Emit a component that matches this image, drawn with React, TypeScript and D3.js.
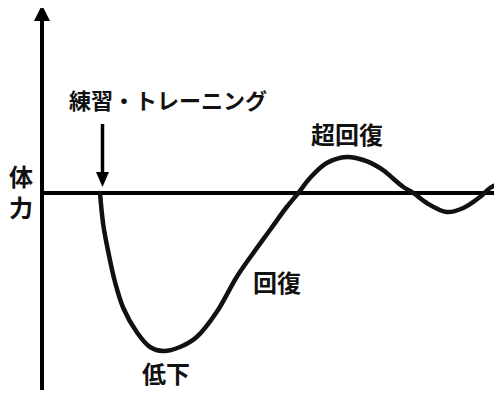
import React from "react";
import * as d3 from "d3";

// curve: time (arbitrary units) vs fitness (relative to baseline 0)
const curveT = [5.8, 6.13, 6.63, 7.3, 8.13, 9.47, 10.8, 12.13, 13.8, 15.47, 17.47, 19.47, 21.13, 22.8, 24.47, 25.63, 26.8, 28.47, 30.47, 32.13, 33.8, 34.47, 36.13, 37.13, 38.47, 40.47, 42.13, 43.8, 44.8, 46];
const curveV = [0, -3.2, -5.9, -8.9, -11.5, -13.9, -15.4, -15.8, -15.4, -14.4, -11.9, -8.4, -6.0, -3.7, -1.4, 0, 1.5, 3.0, 3.6, 3.3, 2.5, 2.0, 0.6, 0, -1.0, -1.9, -1.5, -0.4, 0.5, 1.1];

const trainingLabel = "練習・トレーニング";
const trainingT = 6.05;
const axisLabel = ["体", "力"];

// phase labels: text, time position, fitness position
const phaseText = ["超回復", "回復", "低下"];
const phaseT = [30.5, 23.5, 12.4];
const phaseV = [4.9, -9.9, -19.0];

const W = 502;
const H = 398;
const FONT = "'Noto Sans CJK JP', 'Noto Sans', sans-serif";

export default function App() {
  const x = d3.scaleLinear().domain([0, 46]).range([42, 502]);
  const y = d3.scaleLinear().domain([-20.5, 18.7]).range([398, 6]);

  const pts: [number, number][] = curveT.map((t, i) => [t, curveV[i]]);
  const line = d3
    .line<[number, number]>()
    .x((d) => x(d[0]))
    .y((d) => y(d[1]))
    .curve(d3.curveCatmullRom.alpha(0.5));

  const x0 = x(0);
  const y0 = y(0);
  const xa = x(trainingT);

  return (
    <div style={{ margin: -8 }}>
      <svg width={W} height={H} style={{ display: "block", background: "#fff" }}>
        {/* vertical axis with arrowhead */}
        <line x1={x0} x2={x0} y1={y.range()[0]} y2={18} stroke="#000" strokeWidth={4} />
        <path d={`M${x0},${5} L${x0 - 8},${21} L${x0 + 8},${21} Z`} fill="#000" />

        {/* baseline */}
        <line x1={x0 - 2} x2={W} y1={y0} y2={y0} stroke="#000" strokeWidth={4} />

        {/* curve */}
        <path d={line(pts) || ""} fill="none" stroke="#111" strokeWidth={4.5} strokeLinecap="round" />

        {/* training arrow */}
        <line x1={xa} x2={xa} y1={124} y2={175} stroke="#000" strokeWidth={3.5} />
        <path d={`M${xa - 6.5},${172} L${xa + 6.5},${172} L${xa},${187} Z`} fill="#000" />

        <text x={69} y={109} fontFamily={FONT} fontWeight="bold" fontSize={22} fill="#111">
          {trainingLabel}
        </text>

        {/* vertical axis label, one char per line */}
        <text x={21} y={186} textAnchor="middle" fontFamily={FONT} fontWeight="bold" fontSize={24} fill="#111">
          {axisLabel.map((c, i) => (
            <tspan key={c} x={21} dy={i === 0 ? 0 : 31}>
              {c}
            </tspan>
          ))}
        </text>

        {phaseText.map((s, i) => (
          <text key={s} x={x(phaseT[i])} y={y(phaseV[i])} textAnchor="middle" fontFamily={FONT} fontWeight="bold" fontSize={24} fill="#111">
            {s}
          </text>
        ))}
      </svg>
    </div>
  );
}
